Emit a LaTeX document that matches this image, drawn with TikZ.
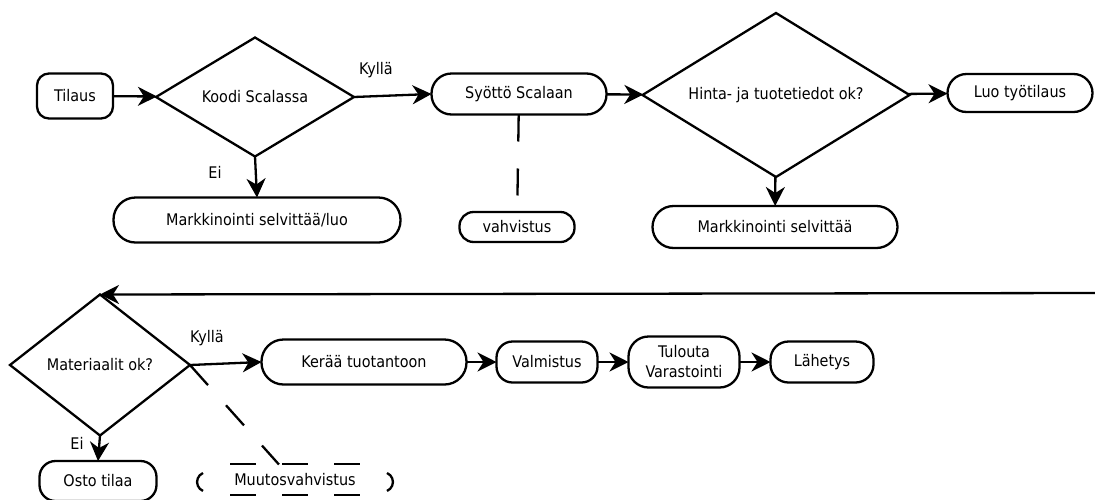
\documentclass[tikz,border=0pt]{standalone}
\usepackage{fontspec}
\setmainfont{DejaVu Sans Condensed}
\usetikzlibrary{shapes.geometric,arrows.meta}

\begin{document}
\begin{tikzpicture}[x=1pt,y=-1pt,
  every node/.style={font=\fontsize{16}{20}\selectfont, outer sep=0pt},
  term/.style={draw, line width=2.3pt, rounded corners=16pt, minimum height=41pt, inner sep=2pt, align=center},
  choice/.style={draw, shape=diamond, line width=2.3pt, inner sep=0pt, aspect=1.6},
  flow/.style={line width=2.3pt, -{Stealth[length=19pt,width=19pt,inset=6pt]}},
  link/.style={line width=2.3pt, dash pattern=on 27pt off 27pt}]
\useasboundingbox (0,0) rectangle (1095,499);

\node[term, minimum width=76pt, minimum height=45pt, rounded corners=12pt] (tilaus) at (75,96) {Tilaus};
\node[choice, minimum width=198pt, minimum height=119pt] (koodi) at (255,97) {Koodi Scalassa};
\node[term, minimum width=287pt, minimum height=45pt, rounded corners=22pt] (markluo) at (257,220) {Markkinointi selvittää/luo};
\node[term, minimum width=175pt, rounded corners=20pt] (syotto) at (519,94) {Syöttö Scalaan};
\node[term, minimum width=115pt, minimum height=30pt, rounded corners=14pt] (vahv) at (517,227) {vahvistus};
\node[choice, minimum width=267pt, minimum height=164pt] (hinta) at (776,95) {Hinta- ja tuotetiedot ok?};
\node[term, minimum width=145pt, minimum height=38pt, rounded corners=19pt] (luo) at (1020,93) {Luo työtilaus};
\node[term, minimum width=245pt, minimum height=42pt, rounded corners=21pt] (markselv) at (775,227) {Markkinointi selvittää};

\node[choice, minimum width=180pt, minimum height=141pt] (mat) at (100,365) {Materiaalit ok?};
\node[term, minimum width=205pt, minimum height=45pt, rounded corners=22pt] (keraa) at (364,362) {Kerää tuotantoon};
\node[term, minimum width=101pt, rounded corners=16pt] (valm) at (547,362) {Valmistus};
\node[term, minimum width=111pt, minimum height=51pt, rounded corners=20pt] (tulouta) at (684,362) {Tulouta\\Varastointi};
\node[term, minimum width=103pt, rounded corners=18pt] (lahetys) at (822,362) {Lähetys};
\node[term, minimum width=117pt, minimum height=40pt, rounded corners=16pt] (osto) at (98,481) {Osto tilaa};
\node[minimum width=196pt, minimum height=31pt] (muutos) at (295,480) {Muutosvahvistus};

\node (kylla1) at (376,70) {Kyllä};
\node (ei1) at (215,172) {Ei};
\node (kylla2) at (207,338) {Kyllä};
\node (ei2) at (77,443) {Ei};

\coordinate (paluu) at (1095,293);

\draw[flow] (tilaus) -- (koodi);
\draw[flow] (koodi.east) -- (syotto.west);
\draw[flow] (koodi.south) -- (markluo.north);
\draw[flow] (syotto) -- (hinta);
\draw[link] (syotto) -- (vahv);
\draw[flow] (hinta) -- (luo);
\draw[flow] (hinta) -- (markselv);
\draw[flow] (paluu) -- (mat.north);
\draw[flow] (mat.east) -- (keraa.west);
\draw[flow] (mat.south) -- (osto.north);
\draw[link] (mat.east) -- (muutos.136);
\draw[flow] (keraa) -- (valm);
\draw[flow] (valm) -- (tulouta);
\draw[flow] (tulouta) -- (lahetys);

\foreach \x in {230,282,334}
  \draw[line width=2.3pt] (\x,464) -- ++(26,0) (\x,495) -- ++(26,0);
\draw[line width=2.3pt] (203,473) arc[start angle=247, end angle=113, radius=9.75];
\draw[line width=2.3pt] (387,473) arc[start angle=-67, end angle=67, radius=9.75];
\end{tikzpicture}
\end{document}
